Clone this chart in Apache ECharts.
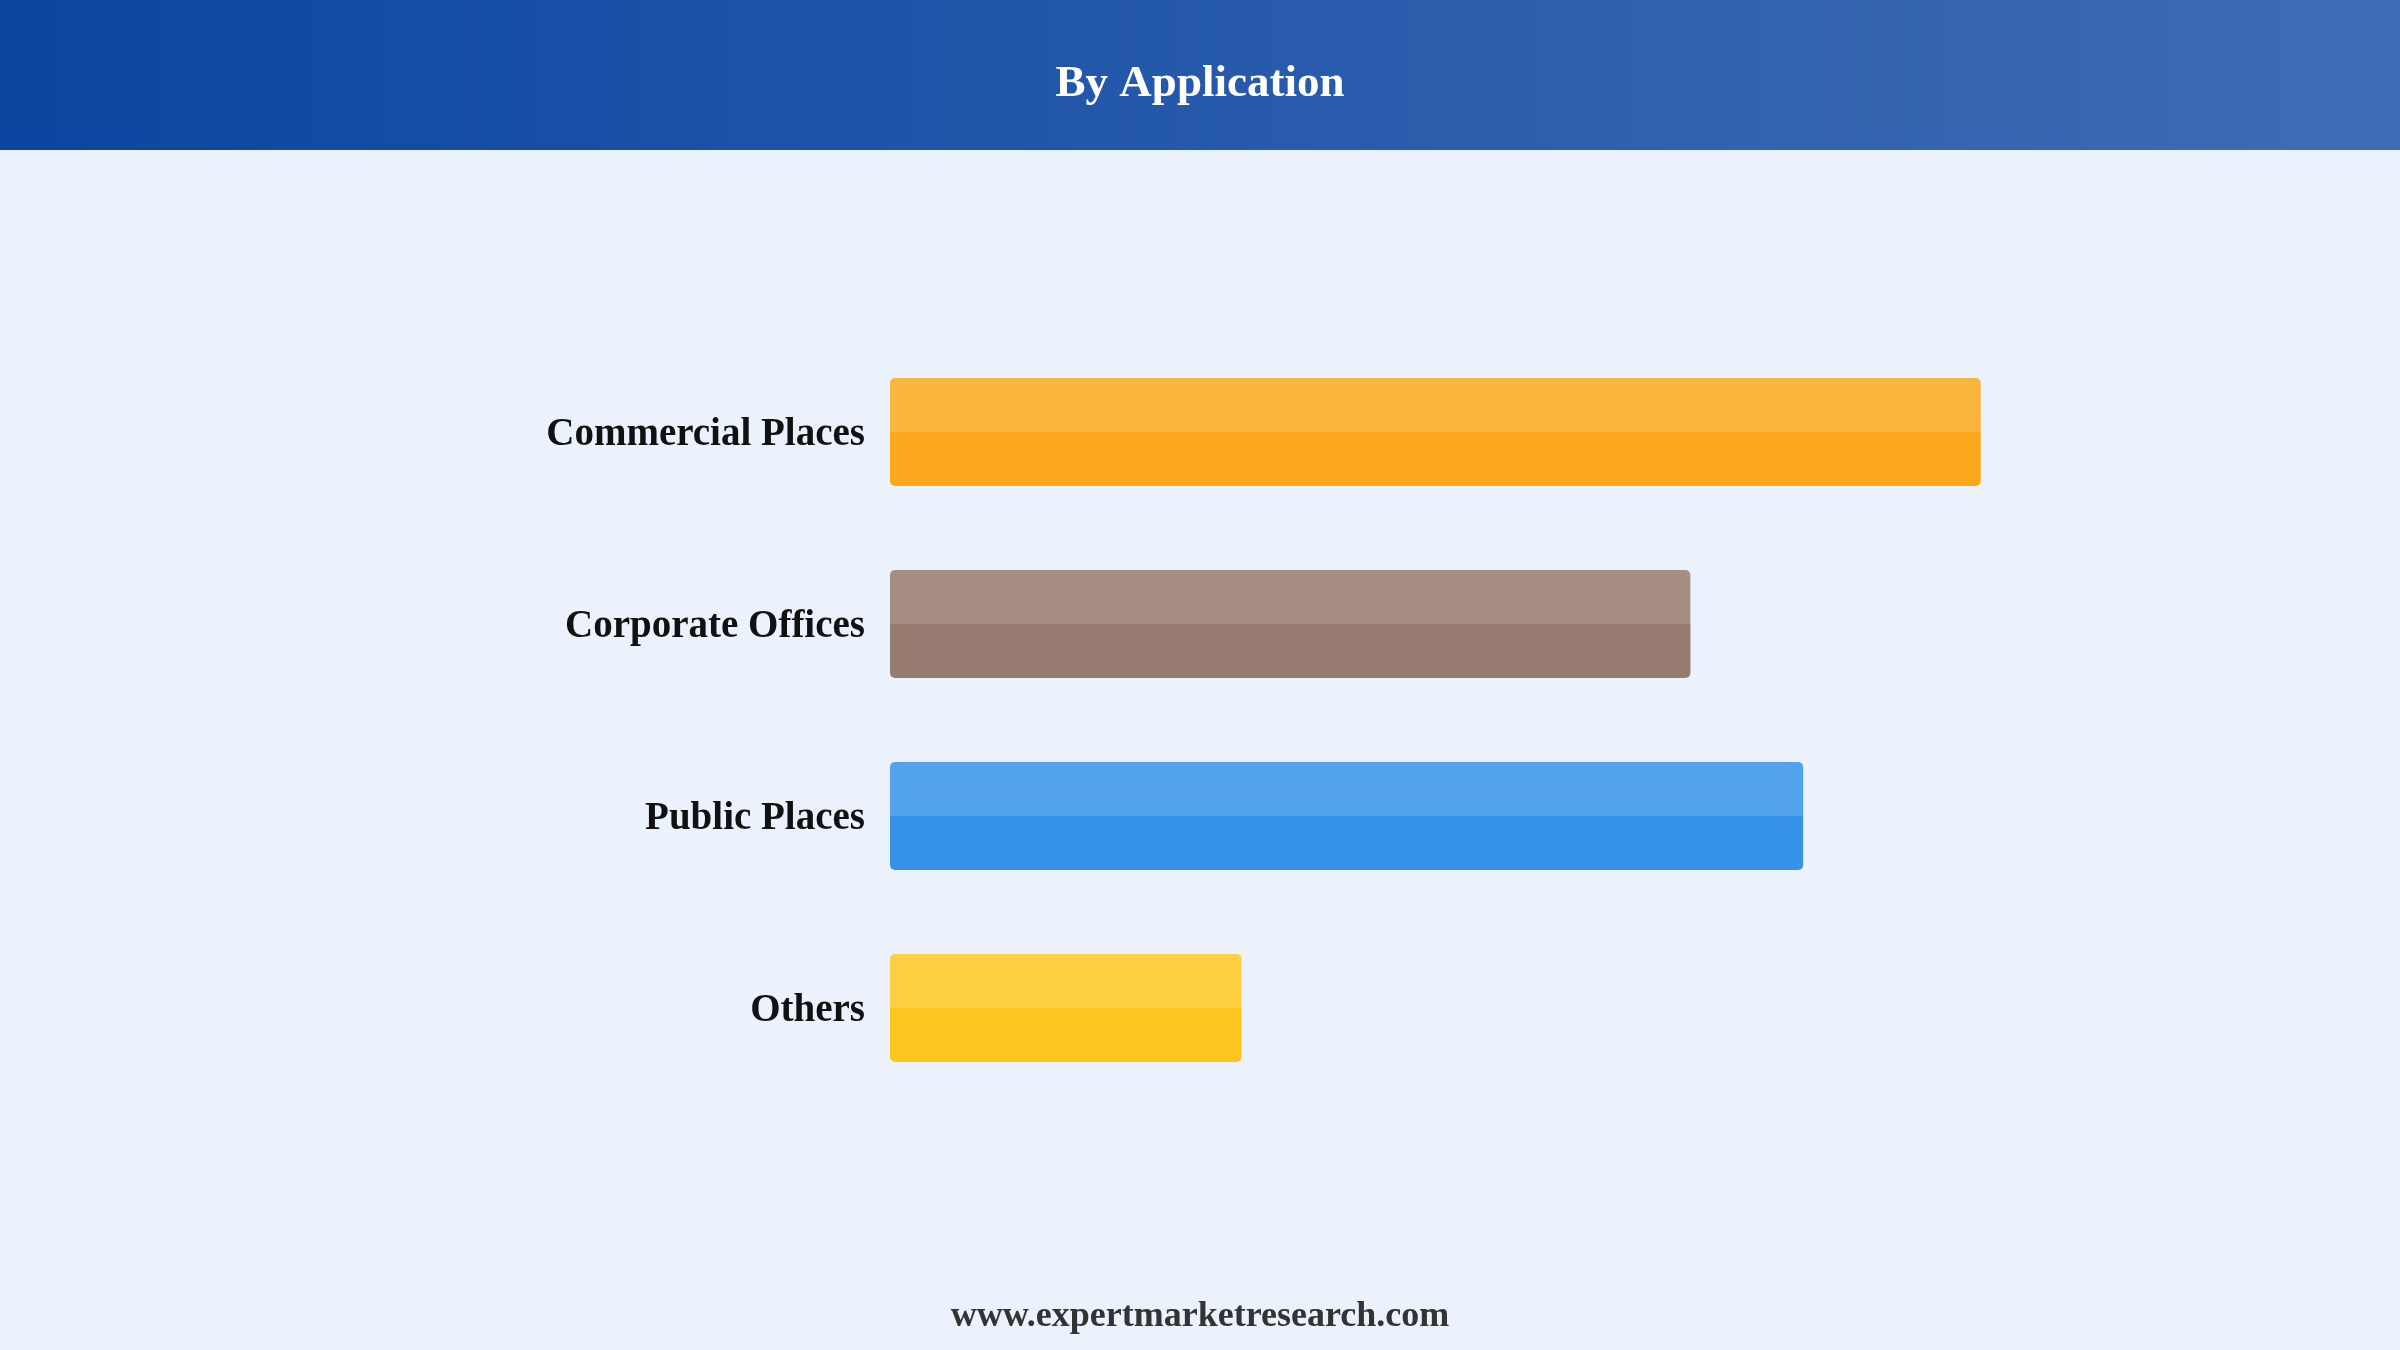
<!DOCTYPE html>
<html>
<head>
<meta charset="utf-8">
<title>By Application</title>
<script src="https://cdn.jsdelivr.net/npm/echarts@6/dist/echarts.min.js"></script>
<style>
  html, body { margin: 0; padding: 0; background: #ebf2fc; }
  #chart { width: 2400px; height: 1350px; }
</style>
</head>
<body>
<div id="chart"></div>
<script>
const categories = ['Commercial Places', 'Corporate Offices', 'Public Places', 'Others']
const values = [90.9, 66.7, 76.1, 29.3]
const lightColors = ['#fbb43e', '#a78e85', '#52a3eb', '#fdd043']
const darkColors = ['#fca81c', '#977a70', '#3592e6', '#fcc520']

const serif = '"Liberation Serif", "DejaVu Serif", serif'

const chart = echarts.init(document.getElementById('chart'))

// two-tone bars: lighter top half, darker bottom half
const barData = values.map((v, i) => ({
  value: v,
  itemStyle: {
    color: new echarts.graphic.LinearGradient(0, 0, 0, 1, [
      { offset: 0, color: lightColors[i] },
      { offset: 0.5, color: lightColors[i] },
      { offset: 0.5, color: darkColors[i] },
      { offset: 1, color: darkColors[i] }
    ])
  }
}))

chart.setOption({
  backgroundColor: '#ebf2fc',
  animation: false,
  graphic: [
    {
      type: 'rect',
      left: 0,
      top: 0,
      z: 0,
      shape: { width: 2400, height: 150 },
      style: {
        fill: new echarts.graphic.LinearGradient(0, 0, 1, 0, [
          { offset: 0, color: '#0c45a0' },
          { offset: 1, color: '#3f6db5' }
        ])
      }
    },
    {
      type: 'text',
      left: 'center',
      top: 1299,
      style: {
        text: 'www.expertmarketresearch.com',
        font: 'bold 36px ' + serif,
        fill: '#333333'
      }
    }
  ],
  title: {
    text: 'By Application',
    left: 'center',
    top: 57,
    textStyle: {
      color: '#ffffff',
      fontFamily: serif,
      fontWeight: 'bold',
      fontSize: 45
    },
    z: 10
  },
  grid: {
    left: 890,
    right: 310,
    top: 336,
    bottom: 246,
    containLabel: false
  },
  xAxis: {
    type: 'value',
    min: 0,
    max: 100,
    show: false
  },
  yAxis: {
    type: 'category',
    data: categories,
    inverse: true,
    axisLine: { show: false },
    axisTick: { show: false },
    axisLabel: {
      margin: 25,
      formatter: v => '{a|' + v + '}',
      rich: {
        a: {
          padding: [5, 0, 0, 0],
          color: '#111111',
          fontFamily: serif,
          fontWeight: 'bold',
          fontSize: 39
        }
      }
    }
  },
  series: [
    {
      type: 'bar',
      data: barData,
      barWidth: 108,
      itemStyle: { borderRadius: 5 }
    }
  ]
})
</script>
</body>
</html>
